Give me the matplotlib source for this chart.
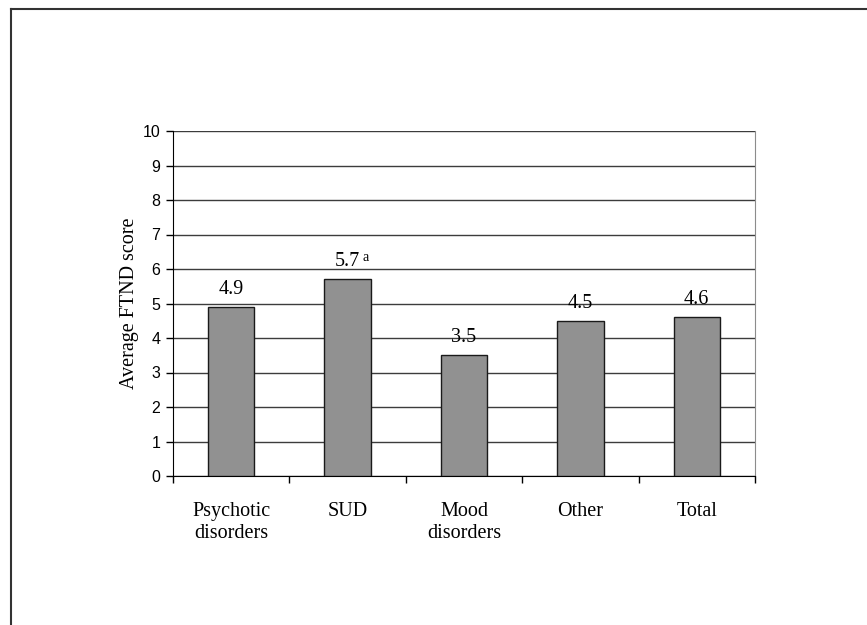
import matplotlib
matplotlib.use("Agg")
import matplotlib.pyplot as plt
from matplotlib.lines import Line2D

categories = ["Psychotic\ndisorders", "SUD", "Mood\ndisorders", "Other", "Total"]
values = [4.9, 5.7, 3.5, 4.5, 4.6]
value_labels = ["4.9", "5.7", "3.5", "4.5", "4.6"]
superscripts = ["", "a", "", "", ""]
yticks = list(range(0, 11))

serif = "Liberation Serif"
sans = "Liberation Sans"

fig = plt.figure(figsize=(8.67, 6.25), dpi=100)
ax = fig.add_axes([0.1995, 0.2384, 0.6713, 0.552])

x = list(range(len(categories)))
ax.bar(x, values, width=0.4, color="#919191", edgecolor="#1a1a1a", linewidth=1.0, zorder=3)

ax.set_xlim(-0.5, len(categories) - 0.5)
ax.set_ylim(0, 10)
ax.set_yticks(yticks)
ax.set_yticklabels([str(t) for t in yticks], fontfamily=sans, fontsize=11.5)
ax.yaxis.grid(True, color="#3c3c3c", linewidth=1.0, zorder=0)
ax.set_axisbelow(True)

ax.set_xticks([i + 0.5 for i in range(-1, len(categories))], minor=False)
ax.set_xticklabels([])
ax.tick_params(axis="x", direction="out", length=5, width=1, color="black")
ax.tick_params(axis="y", direction="out", length=5, width=1, color="black", pad=4)

for i, c in enumerate(categories):
    ax.text(i, -0.76, c, ha="center", va="top", fontfamily=serif, fontsize=14.5,
            linespacing=1.2)

for i, (v, lab, sup) in enumerate(zip(values, value_labels, superscripts)):
    t = ax.text(i, v + 0.38, lab, ha="center", va="baseline", fontfamily=serif, fontsize=14.5)
    if sup:
        ax.annotate(sup, xy=(1, 1), xycoords=t, xytext=(2, 1), textcoords="offset points",
                    ha="left", va="top", fontfamily=serif, fontsize=10)

ax.set_ylabel("Average FTND score", fontfamily=serif, fontsize=14.5, labelpad=3)

ax.spines["top"].set_visible(False)
ax.spines["right"].set_color("#8c8c8c")
ax.spines["left"].set_color("black")
ax.spines["bottom"].set_color("black")

# outer frame (top and left edges visible)
fig.add_artist(Line2D([11 / 867, 1.0], [1 - 9 / 625, 1 - 9 / 625], transform=fig.transFigure,
                      color="#333333", linewidth=1.5))
fig.add_artist(Line2D([11 / 867, 11 / 867], [0.0, 1 - 9 / 625], transform=fig.transFigure,
                      color="#333333", linewidth=1.5))

fig.savefig("out.png", dpi=100)
